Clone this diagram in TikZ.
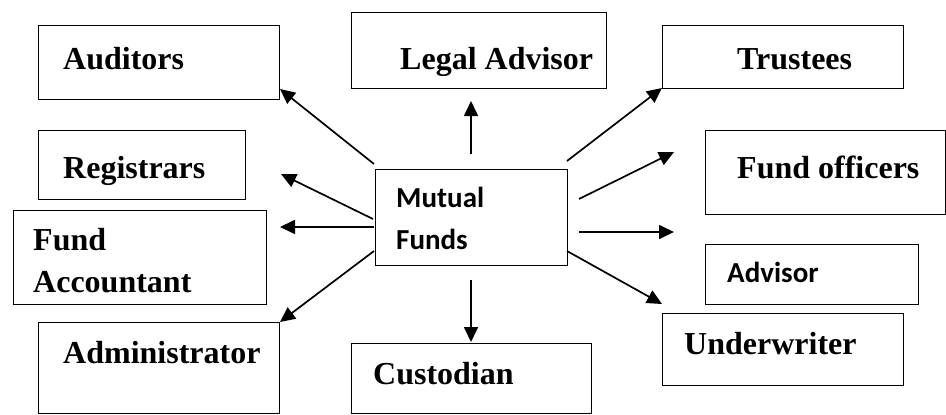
\documentclass[tikz,border=0pt]{standalone}
\usepackage{fontspec}
\setmainfont{Liberation Serif}
\newfontfamily\calib{Carlito}
\usetikzlibrary{arrows.meta}
\tikzset{
  box/.style={draw, line width=1.4pt, rectangle, inner sep=0pt, anchor=north west},
  lbl/.style={inner sep=0pt, anchor=base west, font=\bfseries\fontsize{32}{37}\selectfont},
  clbl/.style={inner sep=0pt, anchor=base west, font=\calib\bfseries\fontsize{29}{34}\selectfont},
  arr/.style={line width=1.7pt, -{Triangle[length=15pt,width=14pt]}}
}
\begin{document}
\begin{tikzpicture}[x=1pt,y=-1pt]
\useasboundingbox (0,0) rectangle (946,415);
% boxes
\node[box, minimum width=241pt, minimum height=74pt] (audB) at (38,25) {};
\node[box, minimum width=207pt, minimum height=69pt] (regB) at (38,130) {};
\node[box, minimum width=253pt, minimum height=94pt] (faB) at (13,210) {};
\node[box, minimum width=241pt, minimum height=91pt] (admB) at (38,322) {};
\node[box, minimum width=255pt, minimum height=76pt] (legB) at (351,12) {};
\node[box, minimum width=192pt, minimum height=96pt] (mfB) at (375,169) {};
\node[box, minimum width=240pt, minimum height=70pt] (cusB) at (351,343) {};
\node[box, minimum width=241pt, minimum height=63pt] (truB) at (662,25) {};
\node[box, minimum width=240pt, minimum height=84pt] (foB) at (705,130) {};
\node[box, minimum width=213pt, minimum height=60pt] (advB) at (705,244) {};
\node[box, minimum width=241pt, minimum height=72pt] (undB) at (662,313) {};
% labels
\node[lbl] (aud) at (63,69) {Auditors};
\node[lbl] (reg) at (63,178) {Registrars};
\node[lbl] (fa1) at (33,250) {Fund};
\node[lbl] (fa2) at (33,292) {Accountant};
\node[lbl] (adm) at (63,363) {Administrator};
\node[lbl] (leg) at (400,69) {Legal Advisor};
\node[clbl] (mf1) at (396,207) {Mutual};
\node[clbl] (mf2) at (396,249) {Funds};
\node[lbl] (cus) at (373,384) {Custodian};
\node[lbl] (tru) at (737,69) {Trustees};
\node[lbl] (fo) at (737,178) {Fund officers};
\node[clbl] (adv) at (727,282) {Advisor};
\node[lbl] (und) at (684,354) {Underwriter};
% arrow end points
\coordinate (t1) at (374,164); \coordinate (h1) at (280,89);
\coordinate (t2) at (471,154); \coordinate (h2) at (471,101);
\coordinate (t3) at (373,219); \coordinate (h3) at (281,174);
\coordinate (t4) at (374,227); \coordinate (h4) at (280,227);
\coordinate (t5) at (374,251); \coordinate (h5) at (280,322);
\coordinate (t6) at (471,280); \coordinate (h6) at (471,342);
\coordinate (t7) at (567,161); \coordinate (h7) at (662,88);
\coordinate (t8) at (579,199); \coordinate (h8) at (674,152);
\coordinate (t9) at (579,232); \coordinate (h9) at (674,232);
\coordinate (t10) at (567,251); \coordinate (h10) at (662,304);
\foreach \i in {1,...,10} \draw[arr] (t\i) -- (h\i);
\end{tikzpicture}
\end{document}
